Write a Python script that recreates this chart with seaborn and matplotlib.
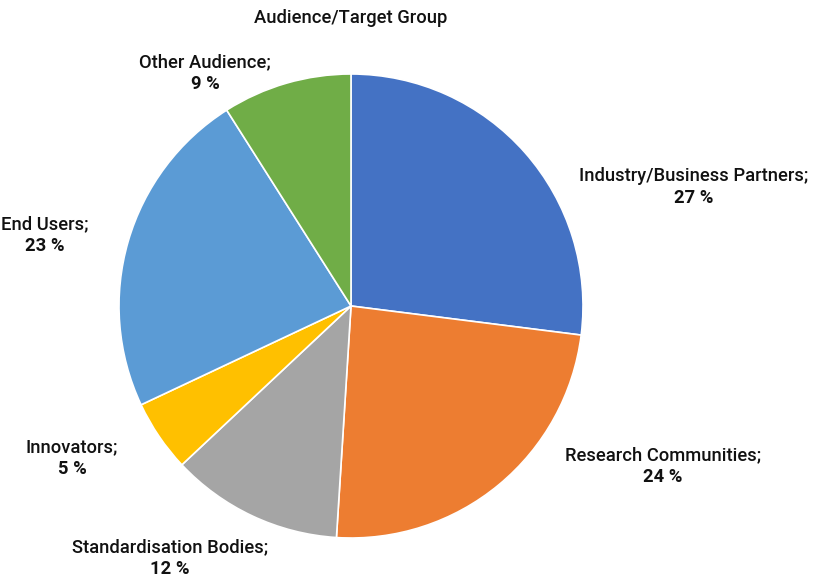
import matplotlib
matplotlib.use("Agg")
import matplotlib.pyplot as plt
import seaborn as sns

# Audience shares (percent), clockwise from 12 o'clock
categories = ["Industry/Business Partners", "Research Communities",
              "Standardisation Bodies", "Innovators", "End Users", "Other Audience"]
shares = [27, 24, 12, 5, 23, 9]
colors = ["#4472C4", "#ED7D31", "#A5A5A5", "#FFC000", "#5B9BD5", "#70AD47"]
title = "Audience/Target Group"

# label anchor points in pie-radius units
label_xy = [(1.478, 0.513), (1.345, -0.690), (-0.780, -1.086),
            (-1.203, -0.655), (-1.319, 0.306), (-0.629, 1.004)]

sns.set_theme(style="white")
plt.rcParams["font.family"] = ["Roboto", "DejaVu Sans"]

W, H = 817, 579
fig = plt.figure(figsize=(W / 100, H / 100), dpi=100)
cx, cy, r = 351, 306, 232
ax = fig.add_axes([(cx - r) / W, (H - cy - r) / H, 2 * r / W, 2 * r / H])
ax.axis("off")

ax.pie(shares, colors=colors, startangle=90, counterclock=False, radius=1,
       wedgeprops=dict(edgecolor="white", linewidth=1.2))
ax.set_xlim(-1, 1)
ax.set_ylim(-1, 1)
ax.set_aspect("equal")

fs = 13.2
for name, val, (x, y) in zip(categories, shares, label_xy):
    ax.text(x, y + 0.048, f"{name};", ha="center", va="center", fontsize=fs,
            fontweight="medium", color="#111111", clip_on=False)
    ax.text(x, y - 0.048, f"{val} %", ha="center", va="center", fontsize=fs,
            fontweight="bold", color="#111111", clip_on=False)

ax.text(0, 1.241, title, ha="center", va="center", fontsize=fs,
        fontweight="medium", color="#111111", clip_on=False)

fig.savefig("out.png", dpi=100, facecolor="white")
